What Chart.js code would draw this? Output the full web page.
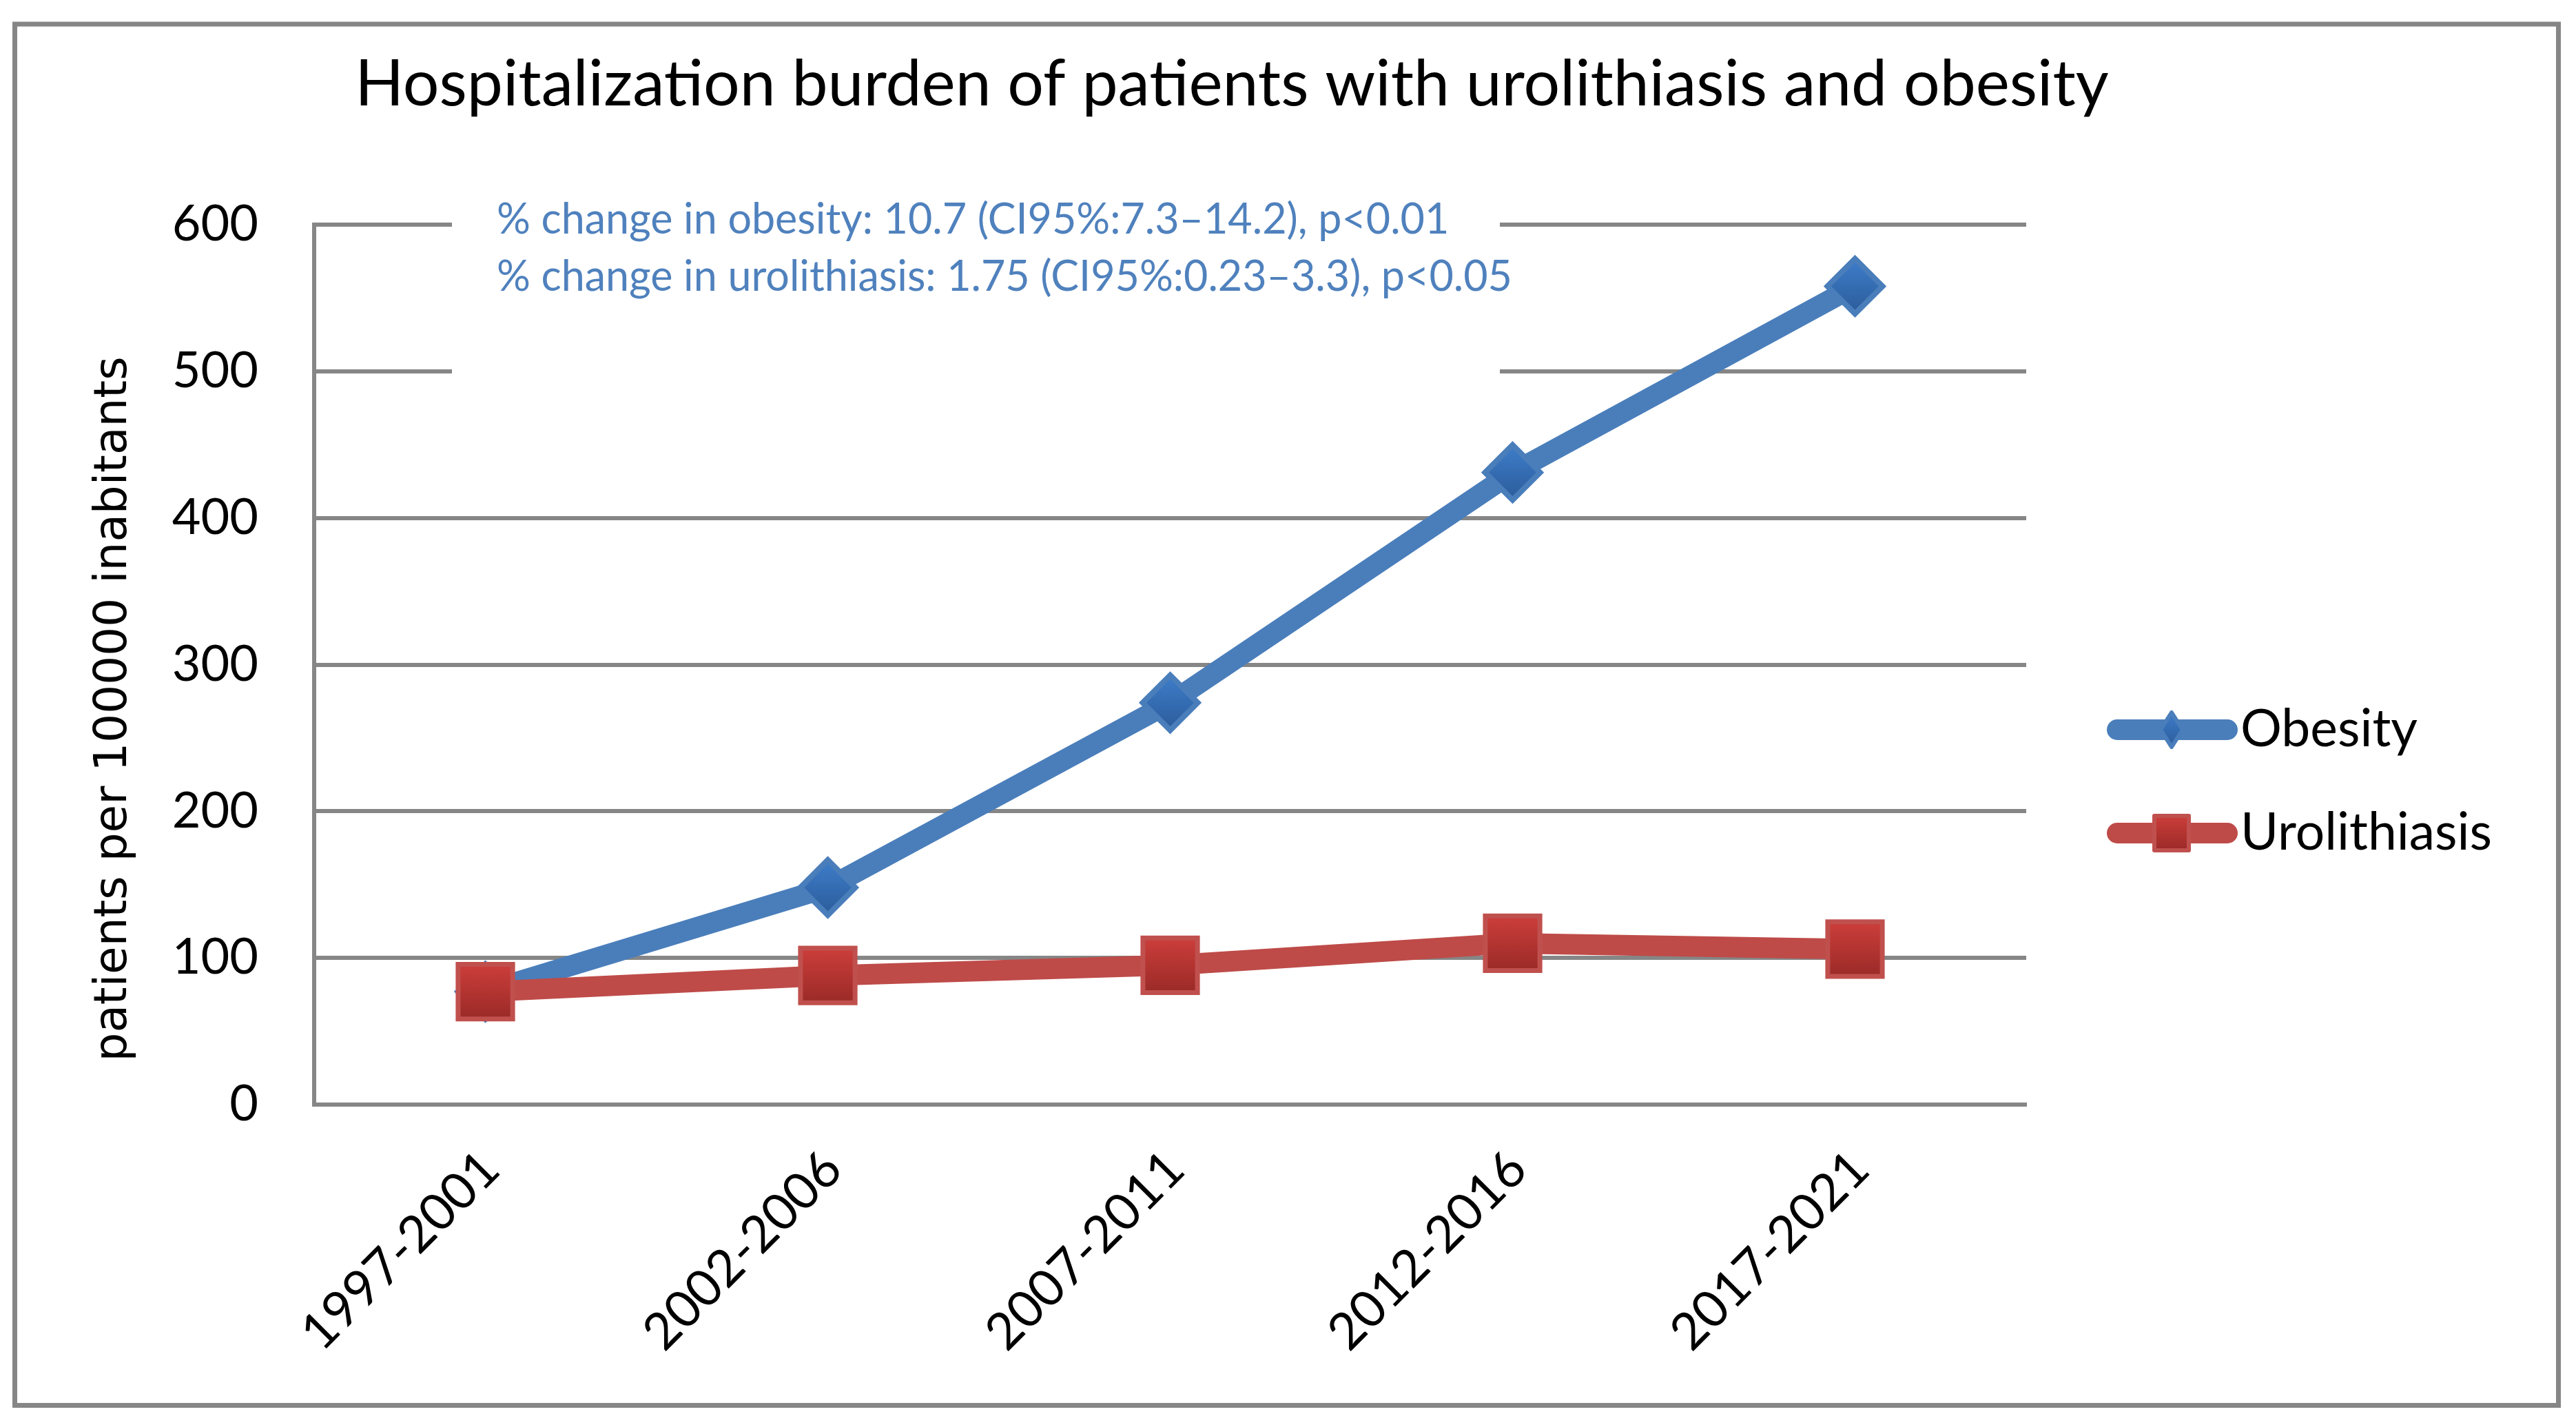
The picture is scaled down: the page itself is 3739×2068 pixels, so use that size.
<!DOCTYPE html>
<html lang="en">
<head>
    <meta charset="UTF-8">
    <title>Hospitalization burden of patients with urolithiasis and obesity</title>
    <script src="https://cdn.jsdelivr.net/npm/chart.js"></script>
    <style>
        html, body { margin: 0; padding: 0; background: #fff; }
        canvas { display: block; }
    </style>
</head>
<body>
    <canvas id="burdenChart" width="3739" height="2068" style="width:3739px;height:2068px"></canvas>

    <script>
        // data
        const periods = ['1997-2001', '2002-2006', '2007-2011', '2012-2016', '2017-2021'];
        const obesity = [77, 148, 274, 431, 558];
        const urolithiasis = [77, 88, 95, 110, 106];
        const seriesNames = ['Obesity', 'Urolithiasis'];
        const yMin = 0, yMax = 600, yStep = 100;

        const chartTitle = 'Hospitalization burden of patients with urolithiasis and obesity';
        const yAxisLabel = 'patients per 100000 inabitants';
        const notes = [
            '% change in obesity: 10.7 (CI95%:7.3\u201314.2), p<0.01',
            '% change in urolithiasis: 1.75 (CI95%:0.23\u20133.3), p<0.05'
        ];

        const FONT = 'Lato, "Liberation Sans", sans-serif';
        const GRID = '#868686';
        const BLUE = '#4a7ebb', RED = '#be4b48';

        function markerFill(top, bottom) {
            return (c) => {
                if (!c.parsed) return top;
                const y = c.chart.scales.y ? c.chart.scales.y.getPixelForValue(c.parsed.y) : NaN;
                if (!Number.isFinite(y)) return top;
                const g = c.chart.ctx.createLinearGradient(0, y - 40, 0, y + 40);
                g.addColorStop(0, top);
                g.addColorStop(1, bottom);
                return g;
            };
        }

        const decor = {
            id: 'decor',
            beforeDraw(chart) {
                const ctx = chart.ctx;
                ctx.save();
                ctx.fillStyle = '#fff';
                ctx.fillRect(0, 0, chart.width, chart.height);
                ctx.strokeStyle = GRID;
                ctx.lineWidth = 7;
                ctx.strokeRect(21.5, 35, 3692, 2004.5);
                ctx.restore();
            },
            beforeDatasetsDraw(chart) {
                const ctx = chart.ctx;
                ctx.save();
                // white box behind the note, cutting the top gridlines
                ctx.fillStyle = '#fff';
                ctx.fillRect(656, 290, 1521, 280);
                ctx.fillStyle = '#4f81bd';
                ctx.font = '61px ' + FONT;
                ctx.textAlign = 'left';
                ctx.textBaseline = 'alphabetic';
                ctx.fillText(notes[0], 721, 339);
                ctx.fillText(notes[1], 721, 422);
                ctx.restore();
            },
            afterDraw(chart) {
                const ctx = chart.ctx;
                ctx.save();
                ctx.fillStyle = '#000';
                ctx.font = '93px ' + FONT;
                ctx.textAlign = 'center';
                ctx.textBaseline = 'alphabetic';
                ctx.fillText(chartTitle, 1788, 153);

                // y axis label
                ctx.save();
                ctx.translate(166, 1029);
                ctx.rotate(-Math.PI / 2);
                ctx.font = '66px "DejaVu Sans", sans-serif';
                ctx.textBaseline = 'middle';
                ctx.fillText(yAxisLabel, 0, 0);
                ctx.restore();

                // legend: line sample with marker, then name
                chart.data.datasets.forEach((ds, i) => {
                    const y = 1059 + i * 150;
                    ctx.strokeStyle = ds.borderColor;
                    ctx.lineWidth = ds.borderWidth;
                    ctx.lineCap = 'round';
                    ctx.beginPath();
                    ctx.moveTo(3073, y);
                    ctx.lineTo(3233, y);
                    ctx.stroke();
                    const cx = 3152;
                    const g = ctx.createLinearGradient(0, y - 26, 0, y + 26);
                    ctx.beginPath();
                    if (ds.pointStyle === 'rectRot') {
                        g.addColorStop(0, '#3e7dca'); g.addColorStop(1, '#2b5c9a');
                        ctx.moveTo(cx, y - 25); ctx.lineTo(cx + 16, y);
                        ctx.lineTo(cx, y + 25); ctx.lineTo(cx - 16, y);
                        ctx.closePath();
                    } else {
                        g.addColorStop(0, '#cc3e3b'); g.addColorStop(1, '#9a2a27');
                        ctx.rect(cx - 25, y - 25, 50, 50);
                    }
                    ctx.fillStyle = g;
                    ctx.fill();
                    ctx.lineWidth = 6;
                    ctx.lineJoin = 'round';
                    ctx.strokeStyle = ds.pointBorderColor;
                    ctx.stroke();

                    ctx.fillStyle = '#000';
                    ctx.font = '75px ' + FONT;
                    ctx.textAlign = 'left';
                    ctx.textBaseline = 'middle';
                    ctx.fillText(ds.label, 3252, y);
                });
                ctx.restore();
            }
        };

        const ctx = document.getElementById('burdenChart').getContext('2d');
        new Chart(ctx, {
            type: 'line',
            data: {
                labels: periods,
                datasets: [{
                    label: seriesNames[0],
                    data: obesity,
                    order: 2,
                    borderColor: BLUE,
                    borderWidth: 30,
                    tension: 0,
                    pointStyle: 'rectRot',
                    pointRadius: 40,
                    pointBorderWidth: 8,
                    pointBorderColor: BLUE,
                    pointBackgroundColor: markerFill('#3e7dca', '#2b5c9a')
                }, {
                    label: seriesNames[1],
                    data: urolithiasis,
                    order: 1,
                    borderColor: RED,
                    borderWidth: 30,
                    tension: 0,
                    pointStyle: 'rect',
                    pointRadius: 56,
                    pointBorderWidth: 7,
                    pointBorderColor: '#c0504d',
                    pointBackgroundColor: markerFill('#cc3e3b', '#9a2a27')
                }]
            },
            options: {
                responsive: false,
                animation: false,
                devicePixelRatio: 1,
                events: [],
                layout: { padding: { top: 326, right: 798, bottom: 0, left: 0 } },
                plugins: {
                    legend: { display: false },
                    title: { display: false },
                    tooltip: { enabled: false }
                },
                scales: {
                    x: {
                        offset: true,
                        grid: { display: false, drawTicks: false },
                        border: { display: true, color: GRID, width: 6 },
                        ticks: {
                            color: '#000',
                            font: { family: FONT, size: 74 },
                            minRotation: 45,
                            maxRotation: 45,
                            padding: 50,
                            labelOffset: 8
                        },
                        afterFit: (s) => { s.height = 465; }
                    },
                    y: {
                        min: yMin,
                        max: yMax,
                        grid: { color: GRID, lineWidth: 6, drawTicks: false },
                        border: { display: true, color: GRID, width: 6 },
                        ticks: {
                            stepSize: yStep,
                            color: '#000',
                            font: { family: FONT, size: 72 },
                            padding: 81
                        },
                        afterFit: (s) => { s.width = 456; }
                    }
                }
            },
            plugins: [decor]
        });
    </script>
</body>
</html>
